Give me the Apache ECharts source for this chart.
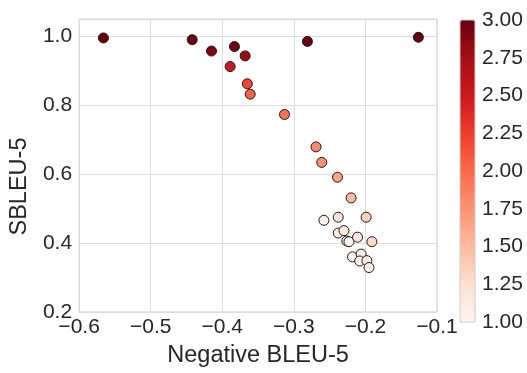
<!DOCTYPE html>
<html>
<head>
<meta charset="utf-8">
<script src="https://cdn.jsdelivr.net/npm/echarts@6/dist/echarts.min.js"></script>
<style>
  html, body { margin: 0; padding: 0; background: #fff; }
  #chart { width: 527px; height: 373px; }
</style>
</head>
<body>
<div id="chart"></div>
<script>
// values
var negBleu = [-0.566, -0.442, -0.415, -0.383, -0.389, -0.368, -0.365, -0.361, -0.313, -0.281, -0.126,
    -0.269, -0.261, -0.239, -0.220, -0.258, -0.238, -0.199, -0.238, -0.230, -0.226, -0.223,
    -0.211, -0.191, -0.218, -0.206, -0.208, -0.198, -0.195];
var sBleu = [0.995, 0.990, 0.957, 0.970, 0.912, 0.943, 0.862, 0.832, 0.773, 0.985, 0.997,
    0.679, 0.634, 0.591, 0.531, 0.466, 0.475, 0.475, 0.429, 0.436, 0.406, 0.404,
    0.417, 0.404, 0.360, 0.368, 0.348, 0.349, 0.329];
var colorVal = [3.0, 3.0, 2.9, 2.95, 2.5, 2.8, 2.2, 2.05, 1.95, 3.0, 3.0,
    1.8, 1.75, 1.65, 1.5, 1.08, 1.2, 1.35, 1.1, 1.12, 1.05, 1.02,
    1.15, 1.3, 1.02, 1.05, 1.0, 1.1, 1.05];
var reds = ['#fff5f0', '#fee0d2', '#fcbba1', '#fc9272', '#fb6a4a', '#ef3b2c', '#cb181d', '#a50f15', '#67000d'];

var points = negBleu.map(function (x, i) { return [x, sBleu[i], colorVal[i]]; });

var txt = '#262626';
var font = 'Liberation Sans, Arial, sans-serif';
var minus = function (v, d) { return v.toFixed(d).replace('-', '\u2212'); };

var myChart = echarts.init(document.getElementById('chart'));
var option = {
    animation: false,
    textStyle: { fontFamily: font },
    grid: [
        { left: 77, right: 90, top: 19, bottom: 51, show: true, borderColor: '#cccccc', borderWidth: 1 },
        { left: 460, width: 15, top: 20, height: 302, show: true, borderColor: '#cccccc', borderWidth: 1, z: 10 }
    ],
    xAxis: [{
        type: 'value', min: -0.6, max: -0.1, interval: 0.1,
        name: 'Negative BLEU-5', nameLocation: 'middle', nameGap: 32,
        nameTextStyle: { fontSize: 23.5, color: txt },
        axisLine: { show: false }, axisTick: { show: false },
        axisLabel: { fontSize: 21, color: txt, margin: 5, formatter: function (v) { return minus(v, 1); } },
        splitLine: { lineStyle: { color: '#dddddd', width: 1 } }
    }, {
        gridIndex: 1, type: 'value', show: false
    }],
    yAxis: [{
        type: 'value', min: 0.2, max: 1.05, interval: 0.2,
        name: 'SBLEU-5', nameLocation: 'middle', nameGap: 43,
        nameTextStyle: { fontSize: 23.5, color: txt, padding: [0, 42, 0, 0] },
        axisLine: { show: false }, axisTick: { show: false },
        axisLabel: { fontSize: 21, color: txt, margin: 7, showMaxLabel: false, formatter: function (v) { return v.toFixed(1); } },
        splitLine: { lineStyle: { color: '#dddddd', width: 1 } }
    }, {
        gridIndex: 1, type: 'value', min: 1, max: 3, interval: 0.25, position: 'right',
        axisLine: { show: false }, axisTick: { show: false }, splitLine: { show: false },
        axisLabel: { fontSize: 21, color: txt, margin: 7, formatter: function (v) { return v.toFixed(2); } }
    }],
    visualMap: {
        type: 'continuous', min: 1, max: 3, dimension: 2, seriesIndex: 0,
        inRange: { color: reds },
        calculable: false, hoverLink: false,
        left: 460, top: 20, padding: 0,
        itemWidth: 15, itemHeight: 302,
        text: null
    },
    series: [{
        type: 'scatter',
        xAxisIndex: 0, yAxisIndex: 0,
        symbolSize: 10,
        itemStyle: { borderColor: '#1a1a1a', borderWidth: 1, opacity: 1 },
        data: points
    }]
};
myChart.setOption(option);
</script>
</body>
</html>
